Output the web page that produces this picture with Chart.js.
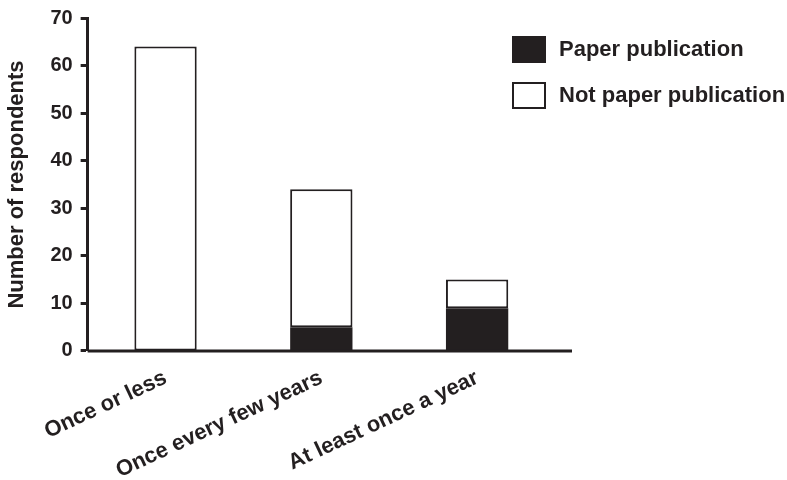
<!DOCTYPE html>
<html>
<head>
<meta charset="utf-8">
<script src="https://cdn.jsdelivr.net/npm/chart.js@4.4.0/dist/chart.umd.min.js"></script>
<style>
    html, body { margin: 0; padding: 0; background: #fff; }
    #wrap { width: 787px; height: 480px; }
</style>
</head>
<body>
<div id="wrap"><canvas id="myChart" width="787" height="480"></canvas></div>
<script>
const categories = ["Once or less", "Once every few years", "At least once a year"];
const paperPublication = [0, 5, 9];
const notPaperPublication = [64, 29, 6];
const yTicks = [0, 10, 20, 30, 40, 50, 60, 70];

const ink = "#231f20";
const font = { family: "'Liberation Sans', Arial, sans-serif", weight: "bold" };

// legend drawn in the chart area, top right, like the original figure
const boxLegend = {
    id: "boxLegend",
    afterDraw(chart) {
        const ctx = chart.ctx;
        const items = chart.data.datasets;
        ctx.save();
        ctx.font = "bold 22px 'Liberation Sans', Arial, sans-serif";
        ctx.textBaseline = "middle";
        items.forEach((ds, i) => {
            const x = 513, y = 37 + i * 46;
            ctx.fillStyle = ds.backgroundColor;
            ctx.fillRect(x, y, 32, 25);
            ctx.strokeStyle = ink;
            ctx.lineWidth = 2;
            ctx.strokeRect(x, y, 32, 25);
            ctx.fillStyle = ink;
            ctx.fillText(ds.label, 559, y + 13);
        });
        // baseline runs a little past the last bar
        const a = chart.chartArea;
        ctx.strokeStyle = ink;
        ctx.lineWidth = 3;
        ctx.beginPath();
        ctx.moveTo(a.left, a.bottom);
        ctx.lineTo(a.right + 17, a.bottom);
        ctx.stroke();
        ctx.restore();
    }
};

const ctx = document.getElementById("myChart").getContext("2d");

const data = {
    labels: categories,
    datasets: [
        {
            label: "Paper publication",
            data: paperPublication,
            backgroundColor: ink,
            borderWidth: 0,
            barPercentage: 0.4,
            categoryPercentage: 1,
        },
        {
            label: "Not paper publication",
            data: notPaperPublication,
            backgroundColor: "#ffffff",
            borderColor: ink,
            borderWidth: 2,
            borderSkipped: false,
            barPercentage: 0.4,
            categoryPercentage: 1,
        },
    ],
};

const config = {
    type: "bar",
    data: data,
    options: {
        responsive: false,
        animation: false,
        layout: { padding: { top: 0, right: 232, left: 4, bottom: 0 } },
        plugins: {
            legend: { display: false },
            tooltip: { enabled: false },
        },
        scales: {
            x: {
                stacked: true,
                offset: true,
                grid: { display: false, drawTicks: false },
                border: { display: false },
                afterFit: (scale) => {
                    scale.height -= 18;
                },
                ticks: {
                    color: ink,
                    font: { ...font, size: 22 },
                    minRotation: 25,
                    maxRotation: 25,
                    padding: 14,
                    autoSkip: false,
                },
            },
            y: {
                stacked: true,
                min: 0,
                max: 70,
                afterBuildTicks: (axis) => {
                    axis.ticks = yTicks.map((v) => ({ value: v }));
                },
                grid: {
                    drawOnChartArea: false,
                    drawTicks: true,
                    tickLength: 7,
                    tickWidth: 3,
                    color: ink,
                },
                border: { display: true, color: ink, width: 3 },
                ticks: {
                    color: ink,
                    font: { ...font, size: 20, lineHeight: 1 },
                    padding: 8,
                },
                title: {
                    display: true,
                    text: "Number of respondents",
                    color: ink,
                    font: { ...font, size: 22 },
                    padding: { top: 0, bottom: 12 },
                },
            },
        },
    },
    plugins: [boxLegend],
};

const myChart = new Chart(ctx, config);
</script>
</body>
</html>
